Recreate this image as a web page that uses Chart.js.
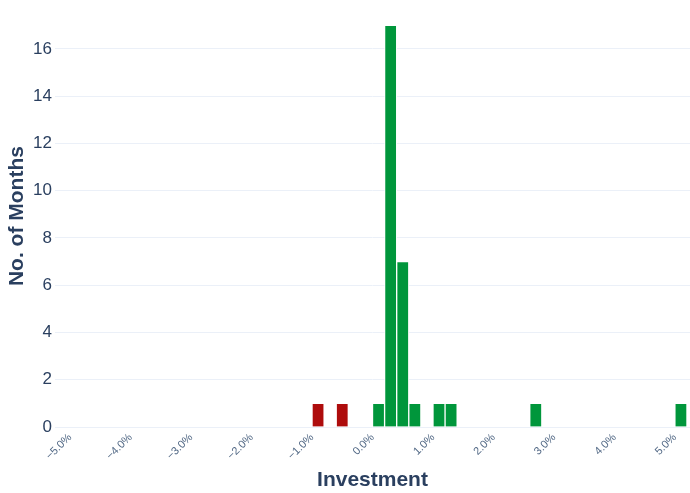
<!DOCTYPE html>
<html>
<head>
<meta charset="utf-8">
<script src="https://cdn.jsdelivr.net/npm/chart.js@4"></script>
<style>
  html, body { margin: 0; padding: 0; background: #fff; }
  #wrap { width: 690px; height: 493px; }
</style>
</head>
<body>
<div id="wrap"><canvas id="chart"></canvas></div>
<script>
// Histogram bins (centre of each 0.2% bin) and month counts
const binCenters = [-0.9, -0.5, 0.1, 0.3, 0.5, 0.7, 1.1, 1.3, 2.7, 5.1];
const monthCounts = [1, 1, 1, 17, 7, 1, 1, 1, 1, 1];
const xTicks = [-5, -4, -3, -2, -1, 0, 1, 2, 3, 4, 5];
const yTicks = [0, 2, 4, 6, 8, 10, 12, 14, 16];

const RED = '#ae0c0c';
const GREEN = '#00963b';
const TEXT = '#2a3f5f';
const GRID = '#ebf0f8';
const FONT = '"Liberation Sans", Arial, sans-serif';

const points = binCenters.map((x, i) => ({ x, y: monthCounts[i] }));
const colors = binCenters.map(x => (x < 0 ? RED : GREEN));

new Chart(document.getElementById('chart'), {
    type: 'bar',
    data: {
        datasets: [{
            data: points,
            backgroundColor: colors,
            borderColor: '#ffffff',
            borderWidth: 1,
            borderSkipped: 'bottom',
            barPercentage: 1,
            categoryPercentage: 1
        }]
    },
    options: {
        responsive: true,
        maintainAspectRatio: false,
        animation: false,
        layout: { padding: { top: 0, left: 0, right: 0, bottom: 0 } },
        plugins: {
            legend: { display: false },
            tooltip: { enabled: false }
        },
        scales: {
            x: {
                type: 'linear',
                offset: false,
                min: -5.25,
                max: 5.25,
                afterBuildTicks: scale => {
                    scale.ticks = xTicks.map(v => ({ value: v }));
                },
                afterFit: scale => { scale.height = 66; },
                grid: { display: false, drawTicks: false },
                border: { display: false },
                ticks: {
                    includeBounds: false,
                    autoSkip: false,
                    minRotation: 45,
                    maxRotation: 45,
                    padding: 4,
                    color: '#506784',
                    font: { family: FONT, size: 11 },
                    callback: v => v.toFixed(1).replace('-', '\u2212') + '%'
                },
                title: {
                    display: true,
                    text: 'Investment',
                    color: TEXT,
                    padding: { top: 0, bottom: 0 },
                    font: { family: FONT, size: 21, weight: 'bold' }
                }
            },
            y: {
                min: 0,
                max: 17.85,
                afterBuildTicks: scale => {
                    scale.ticks = yTicks.map(v => ({ value: v }));
                },
                afterFit: scale => { scale.width = 55; },
                grid: { color: GRID, lineWidth: 1, drawTicks: false },
                border: { display: false },
                ticks: {
                    includeBounds: false,
                    padding: 3,
                    color: TEXT,
                    font: { family: FONT, size: 17, lineHeight: 0.25 }
                },
                title: {
                    display: true,
                    text: 'No. of Months',
                    color: TEXT,
                    padding: { top: 5, bottom: 0 },
                    font: { family: FONT, size: 21, weight: 'bold' }
                }
            }
        }
    }
});
</script>
</body>
</html>
